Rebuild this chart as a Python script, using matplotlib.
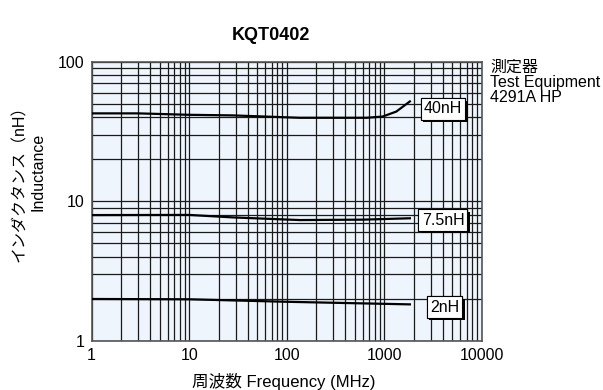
import numpy as np
import matplotlib
matplotlib.use("Agg")
import matplotlib.pyplot as plt
import matplotlib.patheffects as pe
from matplotlib.ticker import LogLocator, FixedLocator, FixedFormatter, NullFormatter

plt.rcParams['font.family'] = ['Liberation Sans', 'Noto Sans CJK JP']

# curve data (frequency in MHz, inductance in nH)
freq_40 = [1, 3, 10, 28, 136, 657, 960, 1330, 1830]
ind_40 = [42.7, 42.7, 41.7, 41.3, 39.7, 39.7, 40.5, 44, 52]

freq_75 = [1, 10, 28, 136, 600, 1830]
ind_75 = [7.98, 8.0, 7.68, 7.35, 7.4, 7.57]

freq_2 = [1, 10, 100, 1830]
ind_2 = [2.0, 1.99, 1.91, 1.83]

labels = ['40nH', '7.5nH', '2nH']
label_f = [4000, 4000, 4150]
label_l = [46, 7.35, 1.75]

x_ticks = [1, 10, 100, 1000, 10000]
y_ticks = [1, 10, 100]

fig = plt.figure(figsize=(6.03, 3.9), dpi=100)
ax = fig.add_axes([0.152, 0.1256, 0.647, 0.716])
ax.set_facecolor('#eef5fc')
ax.set_xscale('log')
ax.set_yscale('log')
ax.set_xlim(1, 10000)
ax.set_ylim(1, 100)

ax.xaxis.set_major_locator(FixedLocator(x_ticks))
ax.xaxis.set_major_formatter(FixedFormatter([str(t) for t in x_ticks]))
ax.yaxis.set_major_locator(FixedLocator(y_ticks))
ax.yaxis.set_major_formatter(FixedFormatter([str(t) for t in y_ticks]))
ax.xaxis.set_minor_locator(LogLocator(base=10, subs=np.arange(2, 10)))
ax.yaxis.set_minor_locator(LogLocator(base=10, subs=np.arange(2, 10)))
ax.xaxis.set_minor_formatter(NullFormatter())
ax.yaxis.set_minor_formatter(NullFormatter())
ax.grid(True, which='both', color='#1a1a1a', linewidth=0.9)
ax.tick_params(which='both', length=0, labelsize=11.5, pad=5)
for s in ax.spines.values():
    s.set_color('#555555')
    s.set_linewidth(1.2)

for f, l in [(freq_40, ind_40), (freq_75, ind_75), (freq_2, ind_2)]:
    ax.plot(f, l, color='black', linewidth=1.6, zorder=3)

for txt, f, l in zip(labels, label_f, label_l):
    t = ax.text(f, l, txt, fontsize=11.5, ha='center', va='center', zorder=5,
                bbox=dict(boxstyle='square,pad=0.2', fc='white', ec='black', lw=0.8))
    t.get_bbox_patch().set_path_effects(
        [pe.withSimplePatchShadow(offset=(1.8, -1.8), shadow_rgbFace='black', alpha=1), pe.Normal()])

fig.text(271 / 603, 1 - 35 / 390, 'KQT0402', fontsize=13, fontweight='bold', ha='center', va='center')
fig.text(490 / 603, 1 - 60 / 390, '測定器\nTest Equipment\n4291A HP', fontsize=11.5,
         ha='left', va='top', linespacing=1.0)
fig.text(284 / 603, 1 - 381 / 390, '周波数 Frequency (MHz)', fontsize=12, ha='center', va='center')
fig.text(19 / 603, 1 - 180 / 390, 'インダクタンス（nH）', fontsize=11.5, rotation=90, ha='center', va='center')
fig.text(38 / 603, 1 - 172 / 390, 'Inductance', fontsize=11.5, rotation=90, ha='center', va='center')

fig.savefig('out.png', dpi=100)
